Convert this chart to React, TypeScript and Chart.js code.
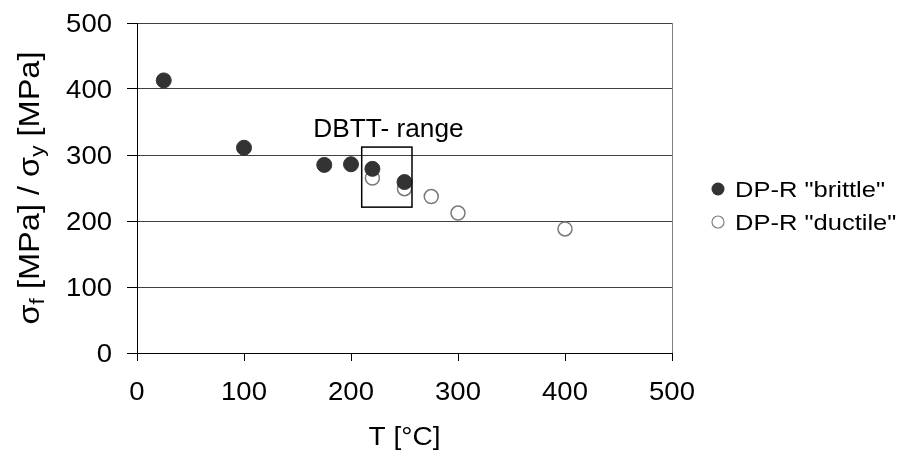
import React, { useEffect, useRef } from "react";
import { Chart, registerables } from "chart.js";

Chart.register(...registerables);

const T_BRITTLE = [25, 100, 175, 200, 220, 250];
const S_BRITTLE = [413, 311, 285, 286, 279, 259];
const T_DUCTILE = [220, 250, 275, 300, 400];
const S_DUCTILE = [265, 249, 237, 212, 188];

const X_TICKS = [0, 100, 200, 300, 400, 500];
const Y_TICKS = [0, 100, 200, 300, 400, 500];

const BOX_T = [210, 257];
const BOX_S = [221, 312];
const BOX_LABEL = "DBTT- range";
const BOX_LABEL_POS = [235, 327];

const SERIES_NAMES = ['DP-R "brittle"', 'DP-R "ductile"'];
const X_TITLE = "T [°C]";
const Y_TITLE_PARTS: [string, boolean][] = [
  ["σ", false],
  ["f", true],
  [" [MPa] / σ", false],
  ["y", true],
  [" [MPa]", false],
];

const FONT = "'Liberation Sans', Arial, sans-serif";

function drawStretched(
  ctx: CanvasRenderingContext2D,
  text: string,
  x: number,
  y: number,
  align: CanvasTextAlign,
  size: number,
  sx: number
) {
  ctx.save();
  ctx.translate(x, y);
  ctx.scale(sx, 1);
  ctx.font = `${size}px ${FONT}`;
  ctx.textAlign = align;
  ctx.textBaseline = "alphabetic";
  ctx.fillText(text, 0, 0);
  ctx.restore();
}

export default function App() {
  const ref = useRef<HTMLCanvasElement>(null);

  useEffect(() => {
    document.body.style.margin = "0";
    const canvas = ref.current;
    if (!canvas) return;

    const overlay = {
      id: "overlay",
      afterDraw(chart: any) {
        const ctx = chart.ctx as CanvasRenderingContext2D;
        const xs = chart.scales.x;
        const ys = chart.scales.y;
        const ca = chart.chartArea;
        ctx.save();

        // right border
        ctx.strokeStyle = "#808080";
        ctx.lineWidth = 1;
        ctx.beginPath();
        ctx.moveTo(Math.round(ca.right) + 0.5, ca.top);
        ctx.lineTo(Math.round(ca.right) + 0.5, ca.bottom);
        ctx.stroke();

        ctx.fillStyle = "#000";

        // tick labels
        for (const v of X_TICKS) {
          drawStretched(ctx, String(v), xs.getPixelForValue(v), 400, "center", 25, 1.1);
        }
        for (const v of Y_TICKS) {
          drawStretched(ctx, String(v), 112, ys.getPixelForValue(v) + 9, "right", 25, 1.1);
        }

        // DBTT box
        const x1 = xs.getPixelForValue(BOX_T[0]);
        const x2 = xs.getPixelForValue(BOX_T[1]);
        const y1 = ys.getPixelForValue(BOX_S[1]);
        const y2 = ys.getPixelForValue(BOX_S[0]);
        ctx.strokeStyle = "#000";
        ctx.lineWidth = 1.5;
        ctx.strokeRect(x1, y1, x2 - x1, y2 - y1);

        drawStretched(
          ctx,
          BOX_LABEL,
          xs.getPixelForValue(BOX_LABEL_POS[0]),
          ys.getPixelForValue(BOX_LABEL_POS[1]),
          "center",
          25,
          1.05
        );

        // x title
        drawStretched(ctx, X_TITLE, (ca.left + ca.right) / 2, 445, "center", 25, 1.12);

        // y title with subscripts
        ctx.save();
        const big = `26px ${FONT}`;
        const small = `18px ${FONT}`;
        let total = 0;
        for (const [t, sub] of Y_TITLE_PARTS) {
          ctx.font = sub ? small : big;
          total += ctx.measureText(t).width;
        }
        const sLen = 273 / total;
        ctx.translate(38.5, 188);
        ctx.rotate(-Math.PI / 2);
        ctx.scale(sLen, 1.15);
        let px = -total / 2;
        ctx.textAlign = "left";
        ctx.textBaseline = "alphabetic";
        for (const [t, sub] of Y_TITLE_PARTS) {
          ctx.font = sub ? small : big;
          ctx.fillText(t, px, sub ? 5 : 0);
          px += ctx.measureText(t).width;
        }
        ctx.restore();

        // legend
        const lx = 718;
        const ly = [189, 222];
        ctx.fillStyle = "#333";
        ctx.beginPath();
        ctx.arc(lx, ly[0], 6.5, 0, Math.PI * 2);
        ctx.fill();
        ctx.strokeStyle = "#808080";
        ctx.lineWidth = 1.2;
        ctx.beginPath();
        ctx.arc(lx, ly[1], 6, 0, Math.PI * 2);
        ctx.stroke();
        ctx.fillStyle = "#000";
        drawStretched(ctx, SERIES_NAMES[0], 735, 197, "left", 22, 1.16);
        drawStretched(ctx, SERIES_NAMES[1], 735, 230, "left", 22, 1.16);

        ctx.restore();
      },
    };

    const chart = new Chart(canvas, {
      type: "scatter",
      data: {
        datasets: [
          {
            label: SERIES_NAMES[0],
            data: T_BRITTLE.map((t, i) => ({ x: t, y: S_BRITTLE[i] })),
            backgroundColor: "#333333",
            borderColor: "#333333",
            borderWidth: 1,
            pointRadius: 7.5,
          },
          {
            label: SERIES_NAMES[1],
            data: T_DUCTILE.map((t, i) => ({ x: t, y: S_DUCTILE[i] })),
            backgroundColor: "rgba(0,0,0,0)",
            borderColor: "#7a7a7a",
            borderWidth: 1.5,
            pointRadius: 7,
          },
        ],
      },
      options: {
        responsive: false,
        animation: false,
        events: [],
        layout: { padding: { top: 23, right: 229, left: 0, bottom: 0 } },
        plugins: {
          legend: { display: false },
          tooltip: { enabled: false },
          title: { display: false },
        },
        scales: {
          x: {
            type: "linear",
            min: 0,
            max: 500,
            afterBuildTicks: (s: any) => {
              s.ticks = X_TICKS.map((v) => ({ value: v }));
            },
            afterFit: (s: any) => {
              s.height = 99;
              s.paddingLeft = 0;
              s.paddingRight = 0;
            },
            ticks: { display: false },
            grid: {
              drawOnChartArea: false,
              drawTicks: true,
              tickLength: 8,
              color: "#000",
              tickColor: "#000",
            },
            border: { display: true, color: "#000", width: 1 },
          },
          y: {
            type: "linear",
            min: 0,
            max: 500,
            afterBuildTicks: (s: any) => {
              s.ticks = Y_TICKS.map((v) => ({ value: v }));
            },
            afterFit: (s: any) => {
              s.width = 137;
              s.paddingTop = 0;
              s.paddingBottom = 0;
            },
            ticks: { display: false },
            grid: {
              drawOnChartArea: true,
              drawTicks: true,
              tickLength: 10,
              color: "#404040",
              tickColor: "#000",
            },
            border: { display: true, color: "#000", width: 1 },
          },
        },
      },
      plugins: [overlay],
    });

    return () => chart.destroy();
  }, []);

  return (
    <div style={{ width: 901, height: 452 }}>
      <canvas ref={ref} width={901} height={452} style={{ display: "block" }} />
    </div>
  );
}
